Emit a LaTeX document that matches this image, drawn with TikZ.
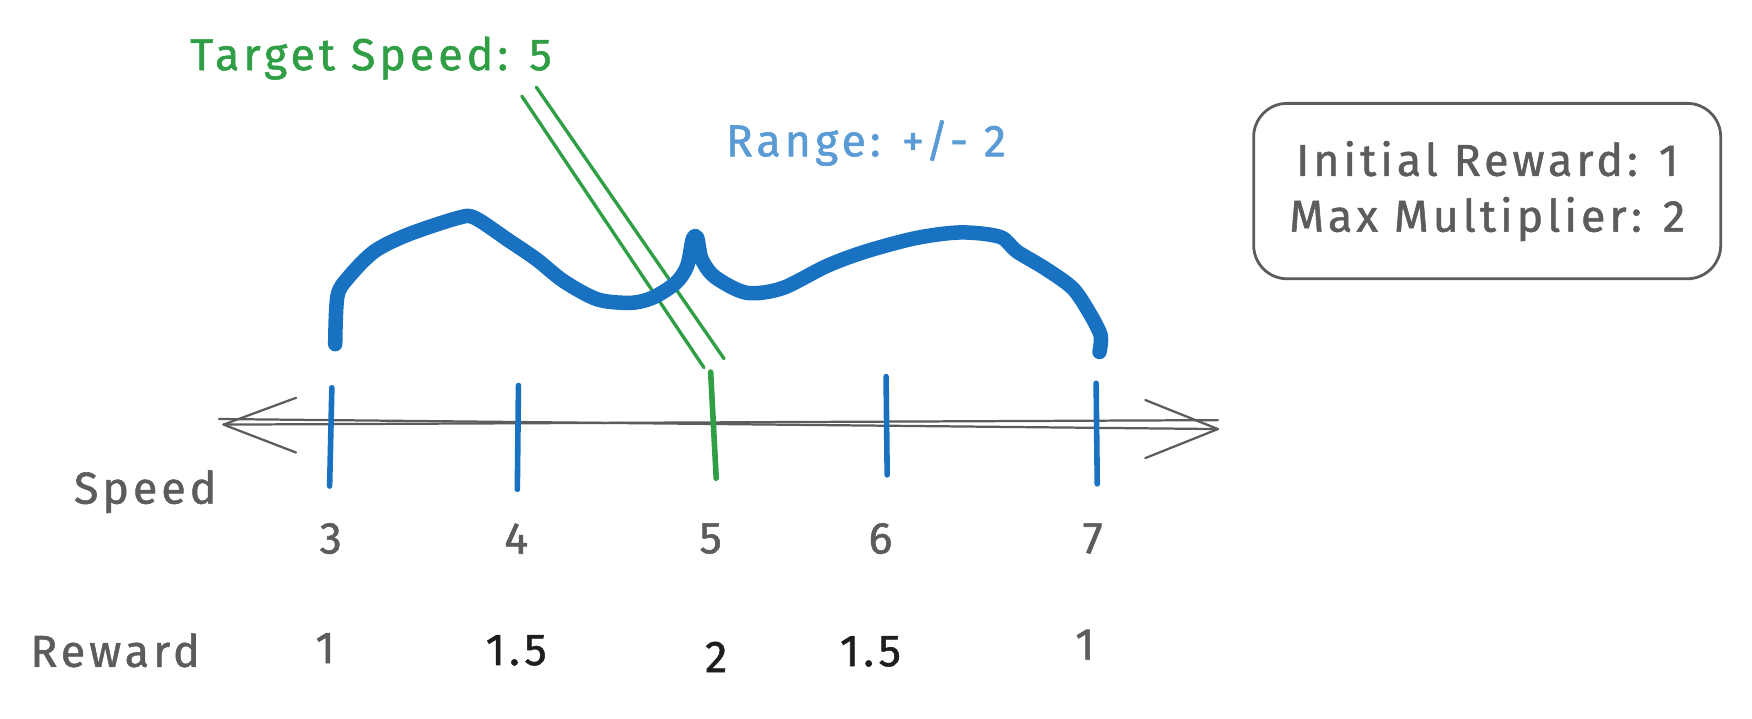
\documentclass[tikz,border=0pt]{standalone}
\usepackage{fontspec}
\setmainfont{Fira Sans}[LetterSpace=9,FakeBold=1.2]
\usetikzlibrary{arrows.meta,positioning}
\definecolor{xblue}{HTML}{1971C2}
\definecolor{xgreen}{HTML}{2F9E44}
\definecolor{xlight}{HTML}{5B9BD5}
\definecolor{xgray}{HTML}{5C5C5C}
\definecolor{xink}{HTML}{1E1E1E}
\begin{document}
\begin{tikzpicture}[x=1pt,y=-1pt,line cap=round,line join=round,
    txt/.style={font=\fontsize{40}{44}\selectfont,inner sep=0pt},
    tick/.style={xblue,line width=5pt},
    axisline/.style={xgray,line width=2pt}]
  \useasboundingbox (0,0) rectangle (1568,643);
  \def\ya{347}          % tope de las marcas
  \def\yb{435}          % pie de las marcas

  % --- eje
  \coordinate (axL) at (200,380);
  \coordinate (axR) at (1090,384);
  \draw[axisline] (196,375) -- (axR);
  \draw[axisline] (axL) -- (1090,376);
  \draw[axisline] (265,356) -- (axL) -- (265,405);
  \draw[axisline] (1025,358) -- (axR) -- (1025,410);

  % --- marcas
  \draw[tick] (297,\ya) -- (295,\yb);
  \draw[tick] (464,345) -- (463,438);
  \draw[tick,xgreen] (636,333) -- (641,428);
  \draw[tick] (793,337) -- (794,425);
  \draw[tick] (981,343) -- (982,433);

  % --- velocidades
  \node[txt,xgray] (speed) at (130,440) {Speed};
  \node[txt,xgray] (s3) at (296,482) {3};
  \node[txt,xgray] (s4) at (462,482) {4};
  \node[txt,xgray] (s5) at (636,482) {5};
  \node[txt,xgray] (s6) at (788,482) {6};
  \node[txt,xgray] (s7) at (978,482) {7};

  % --- recompensas
  \node[txt,xgray] (reward) at (103,582) {Reward};
  \node[txt,xgray] (r3) at (291,580) {1};
  \node[txt,xink]  (r4) at (462,582) {1.5};
  \node[txt,xink]  (r5) at (641,588) {2};
  \node[txt,xink]  (r6) at (779,583) {1.5};
  \node[txt,xgray] (r7) at (971,577) {1};

  % --- velocidad objetivo
  \node[txt,xgreen] (target) at (332,52) {Target Speed: 5};
  \coordinate (ga) at (467,86);
  \coordinate (gb) at (480,78);
  \coordinate (gc) at (630,329);
  \coordinate (gd) at (648,321);
  \draw[xgreen,line width=3pt] (ga) -- (gc);
  \draw[xgreen,line width=3pt] (gb) -- (gd);

  % --- rango
  \node[txt,xlight] (range) at (775,128) {Range: +/- 2};
  \draw[xblue,line width=13pt] plot[smooth,tension=0.5] coordinates {
    (300,308) (302,265) (312,248) (335,225) (365,210) (410,195) (425,195)
    (455,215) (480,232) (505,252) (535,268) (565,271) (585,266) (605,253)
    (615,238) (620,214) (624,213) (628,232) (640,248) (668,262) (700,258)
    (740,238) (775,225) (820,213) (860,208) (895,212) (910,225) (935,240)
    (960,258) (975,280) (985,300) (984,315)};

  % --- parametros
  \node[txt,xgray,draw=xgray,line width=2.5pt,rounded corners=30pt,
        align=center,minimum width=418pt,minimum height=157pt] (info)
        at (1331,171) {Initial Reward: 1\\[6pt]Max Multiplier: 2};
\end{tikzpicture}
\end{document}
